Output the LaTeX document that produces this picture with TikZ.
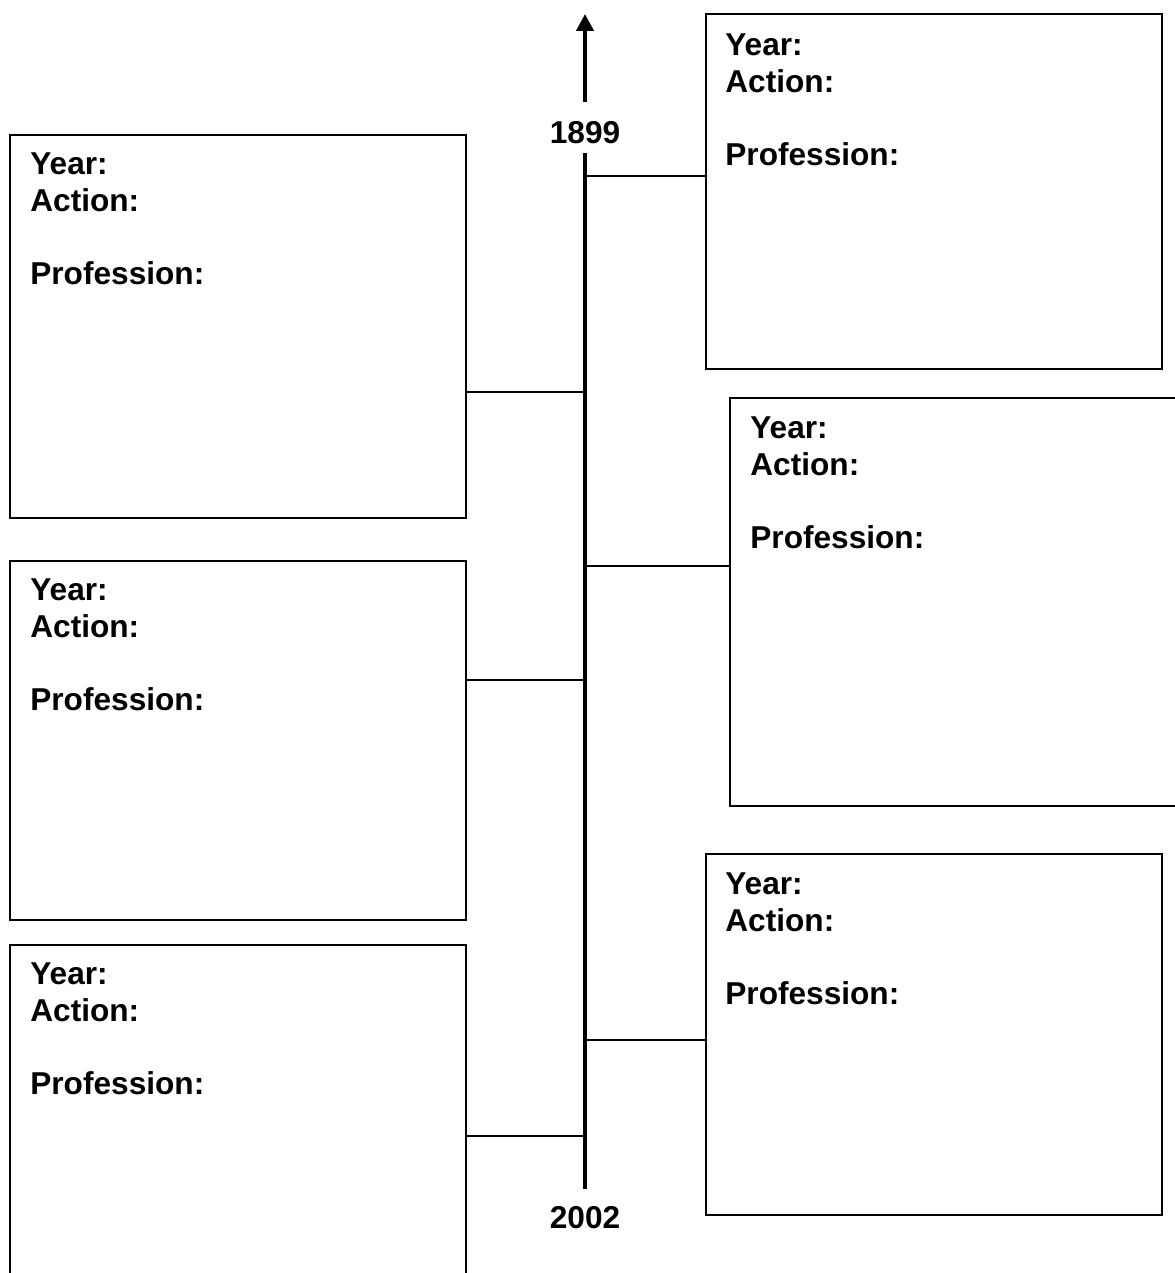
\documentclass[tikz,border=0pt]{standalone}
\usepackage{fontspec}
\setmainfont{Liberation Sans}
\usepackage{tikz}
\usetikzlibrary{arrows.meta}

\begin{document}
\begin{tikzpicture}[x=0.02cm,y=-0.02cm,
                    font=\fontsize{18}{21}\selectfont\bfseries]
  \tikzstyle{box}=[draw=black,line width=1.1pt,rectangle,anchor=north west,
                   inner sep=0pt,minimum width=9.12cm]
  \tikzstyle{entry}=[anchor=north west,align=left,inner sep=0pt]
  \tikzstyle{year}=[inner sep=0.16cm]
  \tikzstyle{link}=[draw=black,line width=0.85pt]
  \tikzstyle{axis}=[draw=black,line width=2.7pt]

  \useasboundingbox (0,0) rectangle (1175,1273);

  % boxes, left column
  \node[box,minimum height=7.66cm] (l1) at (9,134) {};
  \node[box,minimum height=7.18cm] (l2) at (9,560) {};
  \node[box,minimum height=6.92cm] (l3) at (9,944) {};
  % boxes, right column
  \node[box,minimum height=7.10cm] (r1) at (705,13)  {};
  \node[box,minimum height=8.16cm,minimum width=9.40cm] (r2) at (729,397) {};
  \node[box,minimum height=7.22cm] (r3) at (705,853) {};

  % texts
  \node[entry] (tl1) at ([shift={(21,18)}]l1.north west) {Year:\\Action:\\[21pt]Profession:};
  \node[entry] (tl2) at ([shift={(21,18)}]l2.north west) {Year:\\Action:\\[21pt]Profession:};
  \node[entry] (tl3) at ([shift={(21,18)}]l3.north west) {Year:\\Action:\\[21pt]Profession:};
  \node[entry] (tr1) at ([shift={(20,20)}]r1.north west) {Year:\\Action:\\[21pt]Profession:};
  \node[entry] (tr2) at ([shift={(21,19)}]r2.north west) {Year:\\Action:\\[21pt]Profession:};
  \node[entry] (tr3) at ([shift={(20,19)}]r3.north west) {Year:\\Action:\\[21pt]Profession:};

  % time axis
  \node[year] (y1899) at (585,133)  {1899};
  \node[year] (y2002) at (585,1218) {2002};
  \coordinate (tip) at (585,14);
  \draw[axis,-{Triangle[width=0.34cm,length=0.34cm]},shorten <=0.22cm] (y1899.north) -- (tip);
  \draw[axis,shorten >=0.18cm] (y1899.south) -- (y2002.north);

  \coordinate (a1) at (585,176);
  \coordinate (a2) at (585,392);
  \coordinate (a3) at (585,566);
  \coordinate (a4) at (585,680);
  \coordinate (a5) at (585,1040);
  \coordinate (a6) at (585,1136);

  \path[link] (a1) edge (a1 -| r1.west)
              (a2) edge (a2 -| l1.east)
              (a3) edge (a3 -| r2.west)
              (a4) edge (a4 -| l2.east)
              (a5) edge (a5 -| r3.west)
              (a6) edge (a6 -| l3.east);
\end{tikzpicture}
\end{document}
